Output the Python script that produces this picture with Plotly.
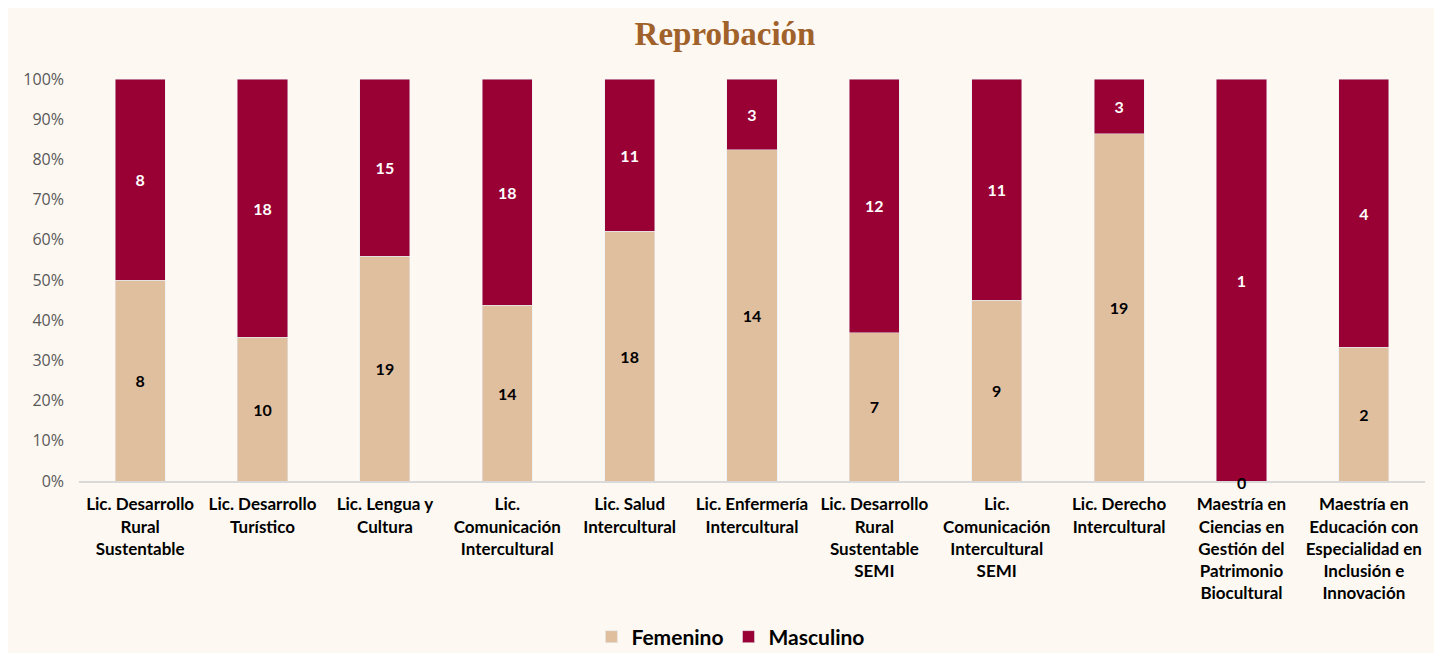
import plotly.graph_objects as go

programas = [
    "Lic. Desarrollo<br>Rural<br>Sustentable",
    "Lic. Desarrollo<br>Turístico",
    "Lic. Lengua y<br>Cultura",
    "Lic.<br>Comunicación<br>Intercultural",
    "Lic. Salud<br>Intercultural",
    "Lic. Enfermería<br>Intercultural",
    "Lic. Desarrollo<br>Rural<br>Sustentable<br>SEMI",
    "Lic.<br>Comunicación<br>Intercultural<br>SEMI",
    "Lic. Derecho<br>Intercultural",
    "Maestría en<br>Ciencias en<br>Gestión del<br>Patrimonio<br>Biocultural",
    "Maestría en<br>Educación con<br>Especialidad en<br>Inclusión e<br>Innovación",
]
femenino = [8, 10, 19, 14, 18, 14, 7, 9, 19, 0, 2]
masculino = [8, 18, 15, 18, 11, 3, 12, 11, 3, 1, 4]
y_ticks = [0, 10, 20, 30, 40, 50, 60, 70, 80, 90, 100]

color_fem = "#e0bf9f"
color_masc = "#990033"
bg = "#fdf8f2"
font_fam = "Lato, 'Open Sans', sans-serif"

fig = go.Figure()
fig.add_trace(
    go.Bar(
        x=programas,
        y=femenino,
        name="Femenino",
        marker_color=color_fem,
        text=femenino,
        textposition="inside",
        insidetextanchor="middle",
        textangle=0,
        textfont=dict(color="black", size=16, family=font_fam, weight="bold"),
    )
)
fig.add_trace(
    go.Bar(
        x=programas,
        y=masculino,
        name="Masculino",
        marker_color=color_masc,
        text=masculino,
        textposition="inside",
        insidetextanchor="middle",
        textangle=0,
        textfont=dict(color="white", size=16, family=font_fam, weight="bold"),
    )
)

# zero-height segments still get their label at the base
for prog, f in zip(programas, femenino):
    if f == 0:
        fig.add_annotation(
            x=prog, y=0, text="0", showarrow=False, yanchor="middle", yshift=-1,
            font=dict(color="black", size=16, family=font_fam, weight="bold"),
        )

fig.update_layout(
    barmode="stack",
    barnorm="percent",
    bargap=0.59,
    width=1434,
    height=645,
    paper_bgcolor=bg,
    plot_bgcolor=bg,
    margin=dict(l=71, r=17, t=71, b=172, autoexpand=False),
    title=dict(
        text="<b>Reprobación</b>",
        x=0.5,
        xanchor="center",
        y=0.96,
        yanchor="middle",
        font=dict(family="'Liberation Serif', serif", size=33, color="#a0622a"),
    ),
    legend=dict(
        orientation="h",
        x=0.484,
        xanchor="center",
        y=-0.388,
        yanchor="middle",
        font=dict(family=font_fam, size=21, color="black", weight="bold"),
        itemwidth=30,
        traceorder="normal",
    ),
    showlegend=True,
)
fig.update_xaxes(
    showline=True,
    linecolor="#d9d9d9",
    linewidth=2,
    tickfont=dict(family=font_fam, size=17, color="black", weight="bold"),
    tickangle=0,
    ticklabelstandoff=7,
    automargin=False,
    showgrid=False,
)
fig.update_yaxes(
    range=[0, 100],
    tickmode="array",
    tickvals=y_ticks,
    ticktext=[f"{v}%" for v in y_ticks],
    showgrid=False,
    zeroline=False,
    ticklabelstandoff=14,
    automargin=False,
    tickfont=dict(family="'Open Sans', sans-serif", size=16, color="#595959"),
)

fig.write_html("out.html")
